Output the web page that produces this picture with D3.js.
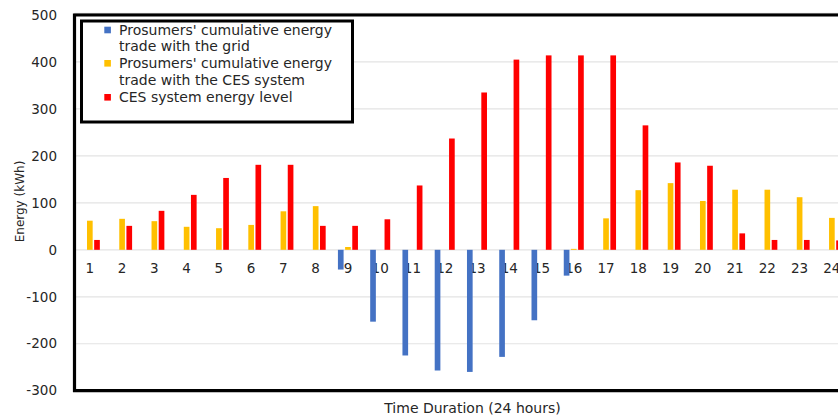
<!DOCTYPE html>
<html>
<head>
<meta charset="utf-8">
<script src="https://cdn.jsdelivr.net/npm/d3@7/dist/d3.min.js"></script>
<style>
html,body{margin:0;padding:0;background:#fff;overflow:hidden;}
svg{display:block;font-family:"DejaVu Sans",sans-serif;}
</style>
</head>
<body>
<svg id="chart" width="838" height="417"></svg>
<script>
const categories = ["1","2","3","4","5","6","7","8","9","10","11","12","13","14","15","16","17","18","19","20","21","22","23","24"];
const gridTrade = [0,0,0,0,0,0,0,0,-42,-153,-225,-257,-260,-228,-150,-55,0,0,0,0,0,0,0,0];
const cesTrade  = [62,66,61,49,46,53,82,93,6,0,0,0,0,0,0,2,67,127,142,104,128,128,112,68];
const cesLevel  = [21,51,83,117,153,181,181,51,51,65,137,237,335,405,414,414,414,265,186,179,35,21,21,20];
const seriesNames = ["Prosumers' cumulative energy\ntrade with the grid","Prosumers' cumulative energy\ntrade with the CES system","CES system energy level"];
const seriesColors = ["#4472C4","#FFC000","#FF0000"];
const yTicks = [-300,-200,-100,0,100,200,300,400,500];

(function(){
const svg = d3.select("#chart");
const pTop = 15, pBottom = 390.7, pLeft = 74.5;
const y = d3.scaleLinear().domain([-300,500]).range([pBottom, pTop]);
const x = d3.scaleBand().domain(categories).range([73.7, 848]).paddingInner(0.333).paddingOuter(0.1665);
const keys = ["grid","ces","level"];
const xSub = d3.scaleBand().domain(keys).range([0, x.bandwidth()]).paddingInner(0.21).paddingOuter(0.105);

// gridlines
svg.append("g").selectAll("line").data(yTicks).join("line")
  .attr("x1", pLeft).attr("x2", 838)
  .attr("y1", d => y(d)).attr("y2", d => y(d))
  .attr("stroke", "#e3e3e3").attr("stroke-width", 1.2);

// y axis tick labels
svg.append("g").selectAll("text").data(yTicks).join("text")
  .attr("x", 57).attr("y", d => y(d)).attr("dy", "0.35em")
  .attr("text-anchor", "end").attr("font-size", 13.5).attr("fill", "#262626")
  .text(d => d);

// x tick labels
svg.append("g").selectAll("text").data(categories).join("text")
  .attr("x", d => x(d) + x.bandwidth()/2).attr("y", y(0) + 18).attr("dy", "0.35em")
  .attr("text-anchor", "middle").attr("font-size", 13.5).attr("fill", "#262626")
  .text(d => d);

// bars
const data = categories.map((c,i) => ({cat:c, grid:gridTrade[i], ces:cesTrade[i], level:cesLevel[i]}));
keys.forEach((k,ki) => {
  svg.append("g").selectAll("rect").data(data).join("rect")
    .attr("x", d => x(d.cat) + xSub(k))
    .attr("width", xSub.bandwidth())
    .attr("y", d => Math.min(y(d[k]), y(0)))
    .attr("height", d => Math.abs(y(d[k]) - y(0)))
    .attr("fill", seriesColors[ki]);
});

// frame
svg.append("path")
  .attr("d", `M900,${pTop - 1.6}H${pLeft}V${pBottom}H900`)
  .attr("fill", "none").attr("stroke", "#bbb").attr("stroke-width", 1);
svg.append("path")
  .attr("d", `M900,${pTop}H${pLeft}V${pBottom}H900`)
  .attr("fill", "none").attr("stroke", "#000").attr("stroke-width", 3.2);

// axis titles
svg.append("text").attr("transform", "translate(20,201.5) rotate(-90)")
  .attr("text-anchor", "middle").attr("dy", "0.35em").attr("font-size", 12).attr("fill", "#262626")
  .text("Energy (kWh)");
svg.append("text").attr("x", 472.5).attr("y", 408.5).attr("dy", "0.35em")
  .attr("text-anchor", "middle").attr("font-size", 14).attr("fill", "#262626")
  .text("Time Duration (24 hours)");

// legend
const lg = svg.append("g");
lg.append("rect").attr("x", 81.5).attr("y", 21).attr("width", 271).attr("height", 101)
  .attr("fill", "#fff").attr("stroke", "#000").attr("stroke-width", 3);
const legendY = [30, 63.3, 97.3];
seriesNames.forEach((n,i) => {
  lg.append("rect").attr("x", 104.3).attr("y", legendY[i]-3.3).attr("width", 6.6).attr("height", 6.6)
    .attr("fill", seriesColors[i]);
  n.split("\n").forEach((line,j) => {
    lg.append("text").attr("x", 119).attr("y", legendY[i] + j*16.3).attr("dy", "0.35em")
      .attr("font-size", 14).attr("fill", "#262626").text(line);
  });
});
})();
</script>
</body>
</html>
